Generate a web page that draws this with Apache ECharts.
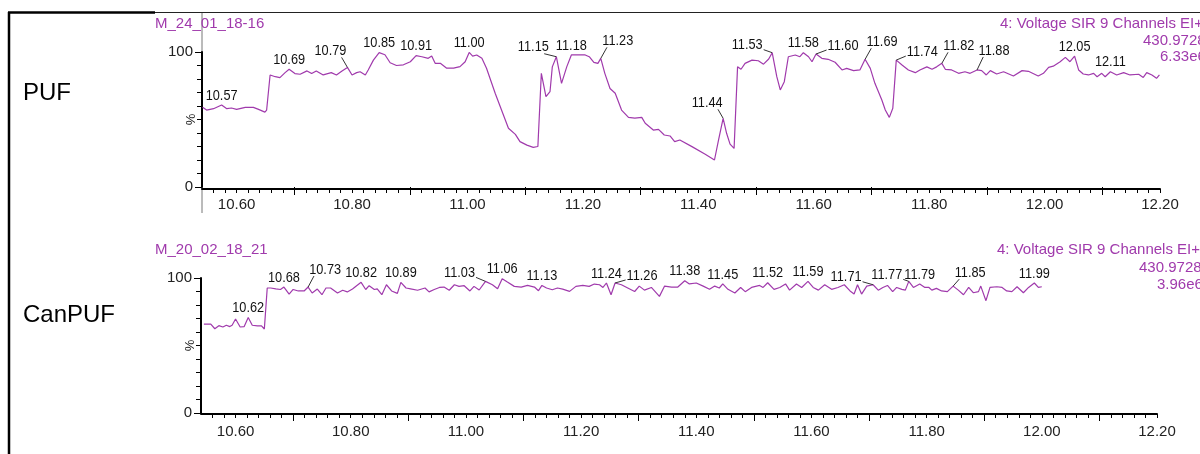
<!DOCTYPE html>
<html><head><meta charset="utf-8">
<script src="https://cdn.jsdelivr.net/npm/echarts@6/dist/echarts.min.js"></script>
<style>html,body{margin:0;padding:0;background:#fff}#c{width:1200px;height:454px}</style>
</head><body><div id="c"></div>
<script>
// ---- PUF trace (top panel) ----
const pufTime = [10.541,10.548,10.560,10.574,10.583,10.591,10.600,10.615,10.629,10.638,10.649,10.652,10.658,10.667,10.675,10.684,10.691,10.701,10.710,10.722,10.730,10.738,10.750,10.764,10.773,10.782,10.792,10.800,10.808,10.814,10.823,10.828,10.837,10.847,10.857,10.866,10.877,10.889,10.901,10.911,10.921,10.932,10.938,10.944,10.953,10.964,10.976,10.987,10.996,11.003,11.009,11.016,11.025,11.033,11.048,11.059,11.071,11.083,11.091,11.103,11.114,11.122,11.128,11.136,11.143,11.147,11.154,11.163,11.172,11.180,11.192,11.204,11.211,11.219,11.226,11.231,11.238,11.247,11.256,11.267,11.279,11.290,11.302,11.308,11.322,11.331,11.341,11.351,11.359,11.368,11.389,11.412,11.428,11.435,11.443,11.449,11.455,11.462,11.468,11.474,11.481,11.493,11.504,11.513,11.522,11.528,11.536,11.542,11.549,11.556,11.568,11.576,11.582,11.591,11.597,11.604,11.614,11.625,11.637,11.649,11.657,11.669,11.680,11.689,11.698,11.706,11.718,11.724,11.731,11.737,11.743,11.753,11.764,11.776,11.784,11.796,11.805,11.813,11.822,11.828,11.839,11.851,11.862,11.871,11.883,11.891,11.899,11.906,11.917,11.929,11.946,11.961,11.972,11.989,11.998,12.007,12.015,12.027,12.036,12.044,12.052,12.059,12.067,12.076,12.085,12.091,12.099,12.105,12.114,12.125,12.137,12.148,12.163,12.171,12.177,12.186,12.194,12.199];
const pufPct = [59,57,58,60.7,58,58.5,57.5,59,59,57.5,55.5,57,83,81.7,81,84.7,87.2,84,83.5,86,84,86,83,84.7,83,85.7,88.6,83,84.7,85.4,83,86.7,94,99.5,98,92,90,90.5,92.8,97.3,96.5,95.3,97,91.6,91.6,88,88,89.2,92.8,99.7,97,97.8,95.3,88,69.4,57,43.5,39,33.6,31,29.4,30,84.2,67,70.6,89,96.5,76.8,89,97.8,97.8,97.8,96.5,92.3,91.6,95.3,84.2,73,69.4,57,51.6,51,51.6,47.2,42.2,42.7,38.5,37.8,33.6,34.8,29.9,24.2,20,34.8,50.9,39.8,31.8,28.6,89,87.2,91.6,94,93.5,91,94.8,99.5,81.7,71.9,78,96.5,97.8,96.5,99.5,96.5,92.8,98.5,95.3,94.6,92.4,86.7,87.9,86.2,86.7,94.6,87.9,76.8,64.4,57,51.6,58.3,94,90.4,86.7,84.7,86.7,89,87.2,89,91.6,87.2,86.7,84.2,85.4,84.2,86.7,86.2,83,86.2,83.7,85.4,82.2,86.2,85.7,82.2,84.2,88.6,89.5,92.8,96,92.8,97,86.7,83.7,83,84.2,81.7,84.2,81.7,85.4,83,84.7,83,83.5,81.2,84.7,83,80.5,83];
const pufPeakTime = [10.574,10.691,10.792,10.847,10.911,11.003,11.154,11.180,11.231,11.443,11.528,11.582,11.604,11.689,11.743,11.822,11.883,12.052,12.114];
const pufPeakPct  = [60.7,87.2,88.6,99.5,97.3,99.7,96.5,97.8,95.3,50.9,99.5,99.5,98.5,94.6,94,91.6,86.7,97,85.4];

// ---- CanPUF trace (bottom panel) ----
const canTime = [10.545,10.557,10.564,10.571,10.578,10.584,10.590,10.594,10.600,10.608,10.615,10.622,10.629,10.638,10.645,10.650,10.655,10.661,10.670,10.678,10.684,10.693,10.700,10.709,10.719,10.726,10.733,10.742,10.750,10.757,10.765,10.777,10.786,10.794,10.803,10.818,10.826,10.832,10.841,10.846,10.854,10.862,10.871,10.881,10.887,10.896,10.904,10.916,10.929,10.936,10.945,10.954,10.962,10.971,10.980,10.988,10.997,11.007,11.014,11.023,11.034,11.046,11.055,11.063,11.072,11.084,11.096,11.107,11.119,11.126,11.132,11.140,11.150,11.159,11.168,11.180,11.191,11.203,11.214,11.223,11.232,11.238,11.244,11.252,11.259,11.270,11.281,11.293,11.301,11.310,11.322,11.336,11.345,11.357,11.368,11.380,11.388,11.400,11.412,11.423,11.432,11.440,11.446,11.455,11.467,11.477,11.485,11.496,11.510,11.516,11.524,11.535,11.545,11.555,11.562,11.574,11.583,11.594,11.603,11.612,11.623,11.635,11.646,11.657,11.667,11.674,11.680,11.687,11.696,11.707,11.716,11.724,11.732,11.741,11.748,11.757,11.763,11.769,11.777,11.788,11.797,11.804,11.809,11.817,11.826,11.836,11.846,11.855,11.864,11.873,11.881,11.890,11.894,11.903,11.910,11.922,11.931,11.939,11.948,11.957,11.968,11.977,11.987,11.994,12.000];
const canPct = [65.9,65.9,62.4,64.7,63.7,65,64,65,69.6,63.7,64,70.8,65,64.5,64.5,62.2,92.6,92.6,92,91.5,93.3,88.1,91.5,90.4,90.4,93.3,88.9,91.8,87.6,92.6,92.6,88.9,90.9,89.7,91.8,96.8,91.5,94.3,91.5,92,87.6,95,90.4,88.6,96.8,92.6,92,90.9,92.6,89.7,91.5,93,93.3,90.9,95,93.8,94.3,90.4,93.8,91.1,97.5,95,92,99.5,97,93.8,93.3,94.5,93.3,90.6,94.5,92.6,91.3,92.6,91.8,90.1,93.8,94.5,93.8,95.5,95,93,96.3,87.6,96.3,95,92.6,90,94,91,93,86.4,94,93.3,93.3,98,95.6,96.3,94,91.6,94,92.6,95.6,91.6,88.9,93,89.9,93,94.5,93,96.5,91.6,93,95.6,91,95.6,93,97.5,93,91,95,91.6,93,95,90.4,88.1,95,88.1,94,95,91,93,94.5,89.9,93,91.6,91,97.5,93,95.6,93,93,91,92.3,90.4,89.9,94,91,87.6,93,89.1,89.9,94,83.2,93,93.5,93,90.4,89.9,93.5,89.1,93,96.3,93,93.5];
const canPeakTime = [10.622,10.684,10.726,10.818,10.887,11.034,11.063,11.132,11.244,11.259,11.380,11.446,11.524,11.594,11.707,11.769,11.788,11.846,11.987];
const canPeakPct  = [70.8,93.3,93.3,96.8,96.8,97.5,99.5,94.5,96.3,96.3,98,95.6,96.5,97.5,95,97.5,95.6,94,96.3];

// ---- axis tick labels ----
const xTickLabels = [10.6,10.8,11.0,11.2,11.4,11.6,11.8,12.0,12.2];
const yTickLabels = [0,100];

// ---- label offsets (style only: leader-line displacement in px) ----
const pufShift = [[0,0],[0,0],[-17,-7],[0,0],[0,0],[0,0],[-23,0],[0,0],[17,-8],[-16,-6],[-25,2],[0,0],[27,1],[17,-8],[26,1],[17,-8],[17,-10],[0,0],[0,0]];
const canShift = [[0,0],[0,0],[17,-8],[0,0],[0,0],[-26,1],[0,0],[0,0],[0,0],[27,2],[0,0],[0,0],[0,0],[0,0],[-27,2],[-22,3],[0,0],[17,-4],[0,0]];

const PURPLE = '#a03aac';
const FONT = "'Liberation Sans', Arial, sans-serif";
const LBL_SIZE = 15, LBL_SCALE = 0.85;

const mctx = document.createElement('canvas').getContext('2d');
mctx.font = LBL_SIZE + "px " + FONT;
function textW(s) { return mctx.measureText(s).width * LBL_SCALE; }

const smallTicks = []; for (let k = 528; k <= 610; k++) smallTicks.push(Math.round(k*2)/100);
const longTicks = []; for (let k = 107; k <= 121; k += 2) longTicks.push(k/10);

function xAxes(gi, off, margin) {
  return [{
    type:'value', gridIndex: gi, min: 10.54, max: 12.2, position:'bottom', offset: off,
    axisLine:{show:true, onZero:false, lineStyle:{color:'#000', width:2}},
    axisTick:{show:true, customValues: smallTicks, length:4, lineStyle:{color:'#000', width:1}},
    axisLabel:{customValues: xTickLabels, formatter: v => v.toFixed(2), color:'#222', fontSize:15, fontFamily:FONT, margin:margin},
    splitLine:{show:false}
  },{
    type:'value', gridIndex: gi, min: 10.54, max: 12.2, position:'bottom', offset: off,
    axisLine:{show:false},
    axisTick:{show:true, customValues: longTicks, length:8, lineStyle:{color:'#000', width:1}},
    axisLabel:{show:false}, splitLine:{show:false}
  }];
}
function yAxis(gi) {
  return {
    type:'value', gridIndex: gi, min:0, max:100, interval:100,
    name:'%', nameLocation:'middle', nameGap:4, nameRotate:90, nameMoveOverlap:false,
    nameTextStyle:{color:'#222', fontSize:13, fontFamily:FONT},
    axisLine:{show:true, lineStyle:{color:'#000', width:2}},
    axisTick:{show:true, length:7, lineStyle:{color:'#000'}},
    minorTick:{show:true, splitNumber:10, length:5, lineStyle:{color:'#000'}},
    axisLabel:{customValues: yTickLabels, color:'#222', fontSize:15, fontFamily:FONT, margin:9},
    splitLine:{show:false}, minorSplitLine:{show:false}
  };
}
function peakSeries(xi, yi, times, pcts, shifts) {
  return {
    type:'custom', coordinateSystem:'cartesian2d', xAxisIndex: xi, yAxisIndex: yi, silent:true, z:5,
    data: times.map((t,i) => [t, pcts[i]]),
    encode:{x:0, y:1},
    renderItem: (params, api) => {
      const i = params.dataIndex;
      const t = api.value(0);
      const p = api.coord([t, api.value(1)]);
      const s = shifts[i];
      const txt = t.toFixed(2);
      const cx = p[0] + s[0], by = p[1] - 2 + s[1];
      const children = [{
        type:'text', x: cx, y: by, scaleX: LBL_SCALE,
        style:{text: txt, fontSize: LBL_SIZE, fontFamily: FONT, fill:'#111', align:'center', verticalAlign:'bottom'}
      }];
      if (s[0] !== 0 || s[1] !== 0) {
        const w = textW(txt);
        const l = cx - w/2, r = cx + w/2, top = by - 12, bot = by - 1;
        let qx, qy;
        if (p[1] > bot + 2) {
          qx = Math.min(Math.max(p[0], l + 0.15*w), r - 0.15*w);
          qy = bot;
        } else {
          qx = p[0] > r ? r + 1 : (p[0] < l ? l - 1 : p[0]);
          qy = Math.min(Math.max(p[1], top), bot) - 2;
        }
        children.push({type:'line', shape:{x1:p[0], y1:p[1], x2:qx, y2:qy}, style:{stroke:'#333', lineWidth:1}});
      }
      return {type:'group', children};
    }
  };
}

const chart = echarts.init(document.getElementById('c'), null, {renderer:'canvas'});
chart.setOption({
  animation:false,
  backgroundColor:'#fff',
  grid:[
    {left:202, right:40, top:52, bottom:267},
    {left:201, right:43, top:278, bottom:41}
  ],
  xAxis:[...xAxes(0,2,8), ...xAxes(1,1,10)],
  yAxis:[yAxis(0), yAxis(1)],
  series:[
    {type:'line', xAxisIndex:0, yAxisIndex:0, showSymbol:false, silent:true,
     lineStyle:{color:PURPLE, width:1.2}, data: pufTime.map((t,i)=>[t,pufPct[i]])},
    {type:'line', xAxisIndex:2, yAxisIndex:1, showSymbol:false, silent:true,
     lineStyle:{color:PURPLE, width:1.2}, data: canTime.map((t,i)=>[t,canPct[i]])},
    peakSeries(0,0,pufPeakTime,pufPeakPct,pufShift),
    peakSeries(2,1,canPeakTime,canPeakPct,canShift)
  ],
  graphic:[
    {type:'line', shape:{x1:8,y1:12.5,x2:1200,y2:12.5}, style:{stroke:'#222', lineWidth:1}},
    {type:'line', shape:{x1:8,y1:12.5,x2:155,y2:12.5}, style:{stroke:'#000', lineWidth:2.5}},
    {type:'line', shape:{x1:9,y1:12,x2:9,y2:454}, style:{stroke:'#000', lineWidth:2.5}},
    {type:'line', shape:{x1:202,y1:13,x2:202,y2:213}, style:{stroke:'#777', lineWidth:1}},
    {type:'text', left:23, top:81, style:{text:'PUF', fontSize:24, fontFamily:FONT, fill:'#000'}},
    {type:'text', left:23, top:303, style:{text:'CanPUF', fontSize:24, fontFamily:FONT, fill:'#000'}},
    {type:'text', x:155, y:23.5, style:{text:'M_24_01_18-16', fontSize:15, fontFamily:FONT, fill:PURPLE, verticalAlign:'middle'}},
    {type:'text', x:155, y:250, style:{text:'M_20_02_18_21', fontSize:15, fontFamily:FONT, fill:PURPLE, verticalAlign:'middle'}},
    {type:'text', x:1000, y:23.5, style:{text:'4: Voltage SIR 9 Channels EI+', fontSize:15, fontFamily:FONT, fill:PURPLE, verticalAlign:'middle'}},
    {type:'text', x:1143, y:40.5, style:{text:'430.9728', fontSize:15, fontFamily:FONT, fill:PURPLE, verticalAlign:'middle'}},
    {type:'text', x:1160, y:57, style:{text:'6.33e6', fontSize:15, fontFamily:FONT, fill:PURPLE, verticalAlign:'middle'}},
    {type:'text', x:997, y:250, style:{text:'4: Voltage SIR 9 Channels EI+', fontSize:15, fontFamily:FONT, fill:PURPLE, verticalAlign:'middle'}},
    {type:'text', x:1139, y:268, style:{text:'430.9728', fontSize:15, fontFamily:FONT, fill:PURPLE, verticalAlign:'middle'}},
    {type:'text', x:1157, y:285, style:{text:'3.96e6', fontSize:15, fontFamily:FONT, fill:PURPLE, verticalAlign:'middle'}}
  ]
});
</script></body></html>
